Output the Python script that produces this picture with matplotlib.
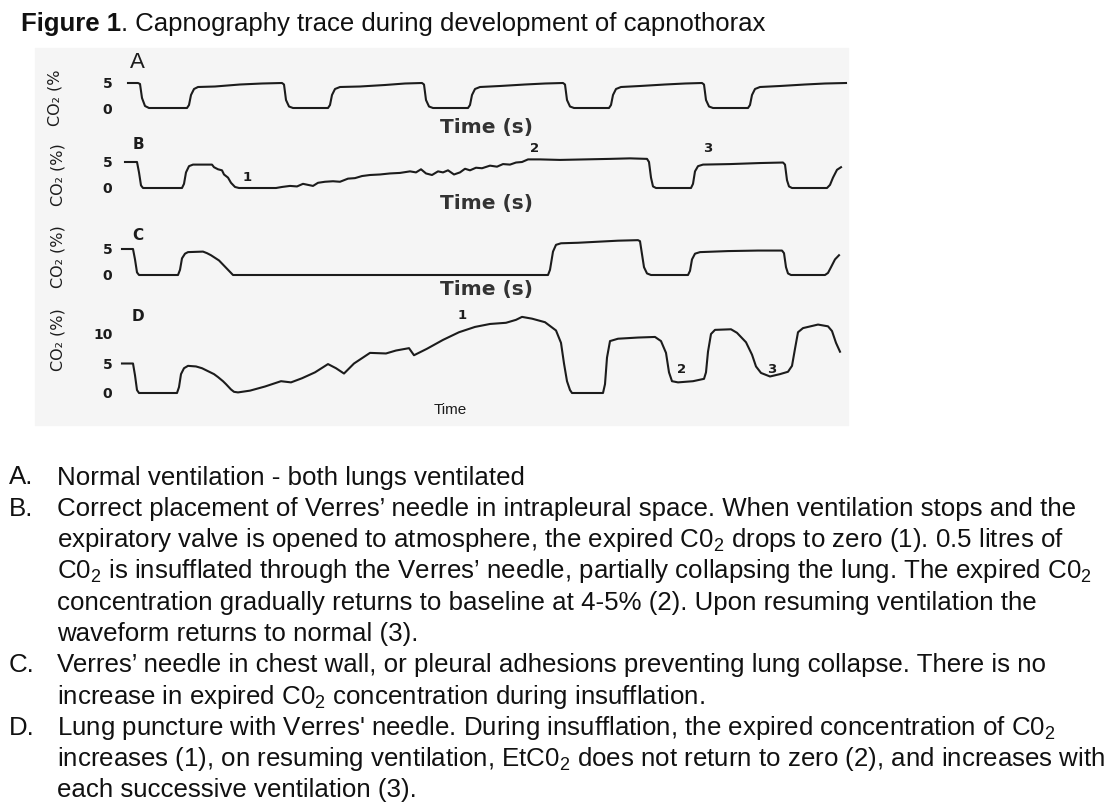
import matplotlib
matplotlib.use('Agg')
import matplotlib.pyplot as plt
import matplotlib.patches as patches
from matplotlib import font_manager

# ---- trace data (time in arbitrary units, CO2 in %) ----
a_time = [0.0, 1.0, 1.2, 1.4, 1.7, 2.1, 5.9, 6.1, 6.3, 6.6, 7.0, 8.7, 11.2, 13.4, 15.4,
          15.6, 15.8, 16.1, 16.5, 20.0, 20.2, 20.4, 20.7, 21.2, 23.2, 25.7, 27.7, 29.4,
          29.6, 29.8, 30.1, 30.5, 34.0, 34.2, 34.4, 34.7, 35.2, 37.2, 39.7, 41.7, 43.5,
          43.7, 43.9, 44.2, 44.6, 48.1, 48.3, 48.5, 48.8, 49.3, 51.2, 53.7, 55.7, 57.4,
          57.6, 57.8, 58.1, 58.5, 62.0, 62.2, 62.4, 62.7, 63.2, 65.2, 67.7, 69.7, 71.8]
a_co2 = [5.0, 5.0, 4.8, 2.0, 0.4, 0.0, 0.0, 0.6, 2.6, 3.8, 4.2, 4.3, 4.7, 4.9, 5.0,
         4.7, 1.6, 0.3, 0.0, 0.0, 0.6, 2.6, 3.8, 4.2, 4.3, 4.6, 4.9, 5.0,
         4.7, 1.6, 0.3, 0.0, 0.0, 0.6, 2.6, 3.8, 4.2, 4.4, 4.7, 4.9, 5.0,
         4.7, 1.6, 0.3, 0.0, 0.0, 0.6, 2.6, 3.8, 4.2, 4.4, 4.7, 4.9, 5.0,
         4.7, 1.6, 0.3, 0.0, 0.0, 0.6, 2.6, 3.8, 4.2, 4.4, 4.7, 4.9, 5.0]

b_time = [-0.3, 0.9, 1.1, 1.3, 1.5, 5.4, 5.6, 5.8, 6.1, 6.5, 8.4, 8.6, 9.0, 9.4, 9.6,
          10.0, 10.3, 10.7, 11.1, 14.8, 15.4, 16.2, 16.9, 17.5, 18.0, 18.5, 19.0, 19.7,
          20.5, 21.2, 22.0, 22.7, 23.4, 24.2, 25.2, 26.2, 27.2, 28.2, 28.8, 29.3, 29.8,
          30.4, 31.0, 31.5, 32.0, 32.6, 33.2, 33.7, 34.2, 34.8, 35.4, 36.2, 36.9, 37.5,
          38.2, 38.8, 39.4, 40.0, 41.2, 43.2, 45.7, 48.2, 50.2, 51.9, 52.1, 52.3, 52.5,
          52.8, 56.3, 56.5, 56.7, 57.0, 57.5, 60.2, 63.2, 65.5, 65.7, 65.9, 66.1, 66.4,
          69.9, 70.2, 70.5, 70.9, 71.3]
b_co2 = [5.0, 5.0, 3.0, 0.5, 0.0, 0.0, 0.8, 3.0, 4.2, 4.5, 4.5, 4.0, 3.6, 3.4, 2.6,
         2.0, 1.0, 0.2, 0.0, 0.0, 0.2, 0.4, 0.3, 0.8, 0.6, 0.4, 1.0, 1.2,
         1.3, 1.2, 1.8, 1.9, 2.3, 2.5, 2.6, 2.8, 2.9, 3.2, 3.0, 3.6, 2.8,
         2.5, 3.2, 3.0, 3.4, 2.6, 3.0, 3.7, 3.4, 3.9, 3.8, 4.3, 4.1, 4.6,
         4.5, 4.9, 5.0, 5.5, 5.5, 5.4, 5.5, 5.6, 5.7, 5.6, 5.0, 2.0, 0.3,
         0.0, 0.0, 0.8, 3.2, 4.2, 4.5, 4.6, 4.8, 4.9, 4.5, 1.5, 0.3, 0.0,
         0.0, 0.6, 2.0, 3.5, 4.0]

c_time = [-0.6, 0.5, 0.7, 0.9, 1.1, 5.0, 5.2, 5.4, 5.7, 6.0, 7.5, 7.9, 8.3, 8.7, 9.1,
          9.5, 9.9, 10.3, 10.5, 42.0, 42.2, 42.5, 42.8, 43.3, 45.0, 47.0, 49.0, 51.0,
          51.2, 51.4, 51.6, 51.9, 52.3, 56.0, 56.2, 56.4, 56.7, 57.2, 60.0, 63.0, 65.4,
          65.6, 65.8, 66.0, 66.3, 69.7, 70.0, 70.3, 70.7, 71.1]
c_co2 = [5.0, 5.0, 3.0, 0.5, 0.0, 0.0, 1.0, 3.2, 4.1, 4.4, 4.5, 4.2, 3.8, 3.3, 2.8,
         2.0, 1.2, 0.4, 0.0, 0.0, 1.0, 4.5, 5.8, 6.1, 6.2, 6.4, 6.6, 6.7,
         6.5, 4.0, 1.5, 0.3, 0.0, 0.0, 0.8, 3.0, 4.1, 4.4, 4.6, 4.7, 4.7,
         4.2, 1.5, 0.3, 0.0, 0.0, 0.4, 1.5, 3.0, 3.8]

d_time = [-0.6, 0.5, 0.7, 0.9, 1.1, 4.9, 5.1, 5.3, 5.6, 6.0, 6.8, 7.4, 8.0, 8.6, 9.0,
          9.5, 9.8, 10.3, 10.6, 11.0, 12.2, 13.7, 15.3, 16.3, 17.4, 18.7, 20.0, 20.8,
          21.6, 22.6, 24.2, 25.8, 26.8, 28.1, 28.6, 29.9, 31.5, 33.1, 34.7, 36.2, 37.8,
          38.8, 39.4, 40.4, 41.7, 42.8, 43.3, 43.6, 43.9, 44.2, 44.4, 47.5, 47.7, 47.9,
          48.2, 49.0, 51.0, 52.7, 53.3, 53.8, 54.1, 54.4, 55.0, 56.5, 57.6, 57.8, 58.0,
          58.3, 58.7, 60.3, 60.9, 61.8, 62.4, 62.8, 63.3, 64.2, 65.2, 66.0, 66.4, 66.7,
          67.0, 67.5, 69.0, 70.0, 70.4, 70.8, 71.2]
d_co2 = [5.0, 5.0, 3.0, 0.5, 0.0, 0.0, 1.0, 3.2, 4.2, 4.6, 4.5, 4.2, 3.7, 3.2, 2.7,
         2.0, 1.5, 0.6, 0.2, 0.1, 0.4, 1.1, 2.0, 1.8, 2.5, 3.5, 4.9, 4.2,
         3.3, 5.0, 6.8, 6.7, 7.2, 7.6, 6.4, 7.5, 9.0, 10.3, 11.2, 11.7, 11.9,
         12.4, 12.9, 12.6, 12.0, 10.6, 8.5, 5.0, 2.0, 0.5, 0.0, 0.0, 1.5, 6.0,
         8.8, 9.2, 9.4, 9.5, 8.8, 6.8, 3.5, 2.0, 1.8, 2.0, 2.4, 3.5, 7.0,
         10.0, 10.7, 10.8, 10.2, 8.6, 6.5, 4.5, 3.4, 2.8, 3.2, 3.6, 4.6, 7.5,
         10.3, 11.0, 11.6, 11.3, 10.5, 8.5, 7.0]

panel_letters = ['A', 'B', 'C', 'D']
panel_ticks = [[0, 5], [0, 5], [0, 5], [0, 5, 10]]
panel_ylabels = ['CO\u2082 (%', 'CO\u2082 (%)', 'CO\u2082 (%)', 'CO\u2082 (%)']
panel_xlabels = ['Time (s)', 'Time (s)', 'Time (s)', 'Time']

# numbered markers on traces B and D: (time, co2, label)
b_marks = [(11.9, 2.1, '1'), (40.7, 7.5, '2'), (58.0, 7.5, '3')]
d_marks = [(33.4, 13.1, '1'), (55.4, 3.9, '2'), (64.4, 3.9, '3')]

legend_keys = ['A.', 'B.', '', '', '', '', 'C.', '', 'D.', '', '']
legend_lines = [
    'Normal ventilation - both lungs ventilated',
    'Correct placement of Verres\u2019 needle in intrapleural space. When ventilation stops and the',
    'expiratory valve is opened to atmosphere, the expired C0$_2$ drops to zero (1). 0.5 litres of',
    'C0$_2$ is insufflated through the Verres\u2019 needle, partially collapsing the lung. The expired C0$_2$',
    'concentration gradually returns to baseline at 4-5% (2). Upon resuming ventilation the',
    'waveform returns to normal (3).',
    'Verres\u2019 needle in chest wall, or pleural adhesions preventing lung collapse. There is no',
    'increase in expired C0$_2$ concentration during insufflation.',
    'Lung puncture with Verres\' needle. During insufflation, the expired concentration of C0$_2$',
    'increases (1), on resuming ventilation, EtC0$_2$ does not return to zero (2), and increases with',
    'each successive ventilation (3).',
]

W, H, DPI = 1114, 811, 100
INK = '#1c1c1c'

plt.rcParams['mathtext.fontset'] = 'custom'
plt.rcParams['mathtext.rm'] = 'Liberation Sans'
plt.rcParams['mathtext.it'] = 'Liberation Sans:italic'
plt.rcParams['mathtext.bf'] = 'Liberation Sans:bold'

installed = {f.name for f in font_manager.fontManager.ttflist}
has_narrow = 'Liberation Sans Narrow' in installed
title_family = 'Liberation Sans Narrow' if has_narrow else 'Liberation Sans'
title_size = 23 if has_narrow else 18.5

fig = plt.figure(figsize=(W / DPI, H / DPI), dpi=DPI)
fig.patch.set_facecolor('white')


def fx(px):
    return px / W


def fy(py):
    return 1 - py / H


# faint scan background behind the traces
fig.patches.append(patches.Rectangle((fx(35), fy(425)), fx(813), 377 / H,
                                     transform=fig.transFigure, color='#f5f5f5',
                                     zorder=-5))

# panel geometry: pixel row of CO2 = 0, pixels per %, y limits
X_LEFT, X_RIGHT = 118, 848
T_MIN, T_MAX = -1.0, 72.0
panel_geom = [(108, 5.0, -1, 7), (188, 5.2, -1, 7), (275, 5.2, -1, 8), (393, 5.9, -1, 14)]
letter_rows = [63, 145, 235, 317]
ylabel_pos = [(55, 98), (58, 175), (58, 257), (58, 340)]
xlabel_pos = [(486, 127), (486, 204), (486, 289), (450, 410)]

traces = [(a_time, a_co2), (b_time, b_co2), (c_time, c_co2), (d_time, d_co2)]

for i, (t, v) in enumerate(traces):
    y0, ppu, vmin, vmax = panel_geom[i]
    top = y0 - ppu * vmax
    bottom = y0 - ppu * vmin
    ax = fig.add_axes([fx(X_LEFT), fy(bottom), fx(X_RIGHT - X_LEFT), (bottom - top) / H])
    ax.set_facecolor('none')
    ax.set_zorder(2)
    ax.plot(t, v, color=INK, lw=1.5, solid_joinstyle='round')
    ax.set_xlim(T_MIN, T_MAX)
    ax.set_ylim(vmin, vmax)
    for s in ax.spines.values():
        s.set_visible(False)
    ax.set_xticks([])
    ax.set_yticks(panel_ticks[i])
    ax.set_yticklabels([str(k) for k in panel_ticks[i]], family='DejaVu Sans',
                       fontweight='bold', fontsize=10, color=INK)
    ax.tick_params(axis='y', length=0, pad=4)

    # panel letter
    lv = (y0 - letter_rows[i]) / ppu
    if i == 0:
        ax.text(0.9, lv, panel_letters[i], fontsize=16, family='Liberation Sans',
                color=INK, ha='center', va='center')
    else:
        ax.text(1.0, lv, panel_letters[i], fontsize=11, family='DejaVu Sans',
                fontweight='bold', color=INK, ha='center', va='center')

    # rotated y label
    lx, ly = ylabel_pos[i]
    fig.text(fx(lx), fy(ly), panel_ylabels[i], rotation=90, ha='center', va='center',
             family='DejaVu Sans', fontsize=11.5, color=INK)

    # time label
    tx, ty = xlabel_pos[i]
    if i < 3:
        fig.text(fx(tx), fy(ty), panel_xlabels[i], ha='center', va='center',
                 family='DejaVu Sans', fontweight='bold', fontsize=14.5, color='#333333')
    else:
        fig.text(fx(tx), fy(ty), panel_xlabels[i], ha='center', va='center',
                 family=title_family, fontsize=11, color=INK)

    marks = b_marks if i == 1 else d_marks if i == 3 else []
    for mt, mv, lab in marks:
        ax.text(mt, mv, lab, fontsize=9.5, family='DejaVu Sans', fontweight='bold',
                color=INK, ha='center', va='center')

# title
t1 = fig.text(fx(21), fy(31), 'Figure 1', family=title_family, fontweight='bold',
              fontsize=title_size, color='#111111', va='baseline', ha='left')
fig.canvas.draw()
bb = t1.get_window_extent()
fig.text(bb.x1 / W, fy(31), '. Capnography trace during development of capnothorax',
         family=title_family, fontsize=title_size, color='#111111', va='baseline', ha='left')

# caption lines
body_size = 18.65
base0 = 484.5
step = 31.3
for k, (key, line) in enumerate(zip(legend_keys, legend_lines)):
    yb = base0 + step * k
    if key:
        fig.text(fx(9), fy(yb), key, family='Liberation Sans', fontsize=body_size,
                 color='#111111', va='baseline', ha='left')
    fig.text(fx(57), fy(yb), line, family='Liberation Sans', fontsize=body_size,
             color='#111111', va='baseline', ha='left')

fig.savefig('out.png', dpi=DPI)
